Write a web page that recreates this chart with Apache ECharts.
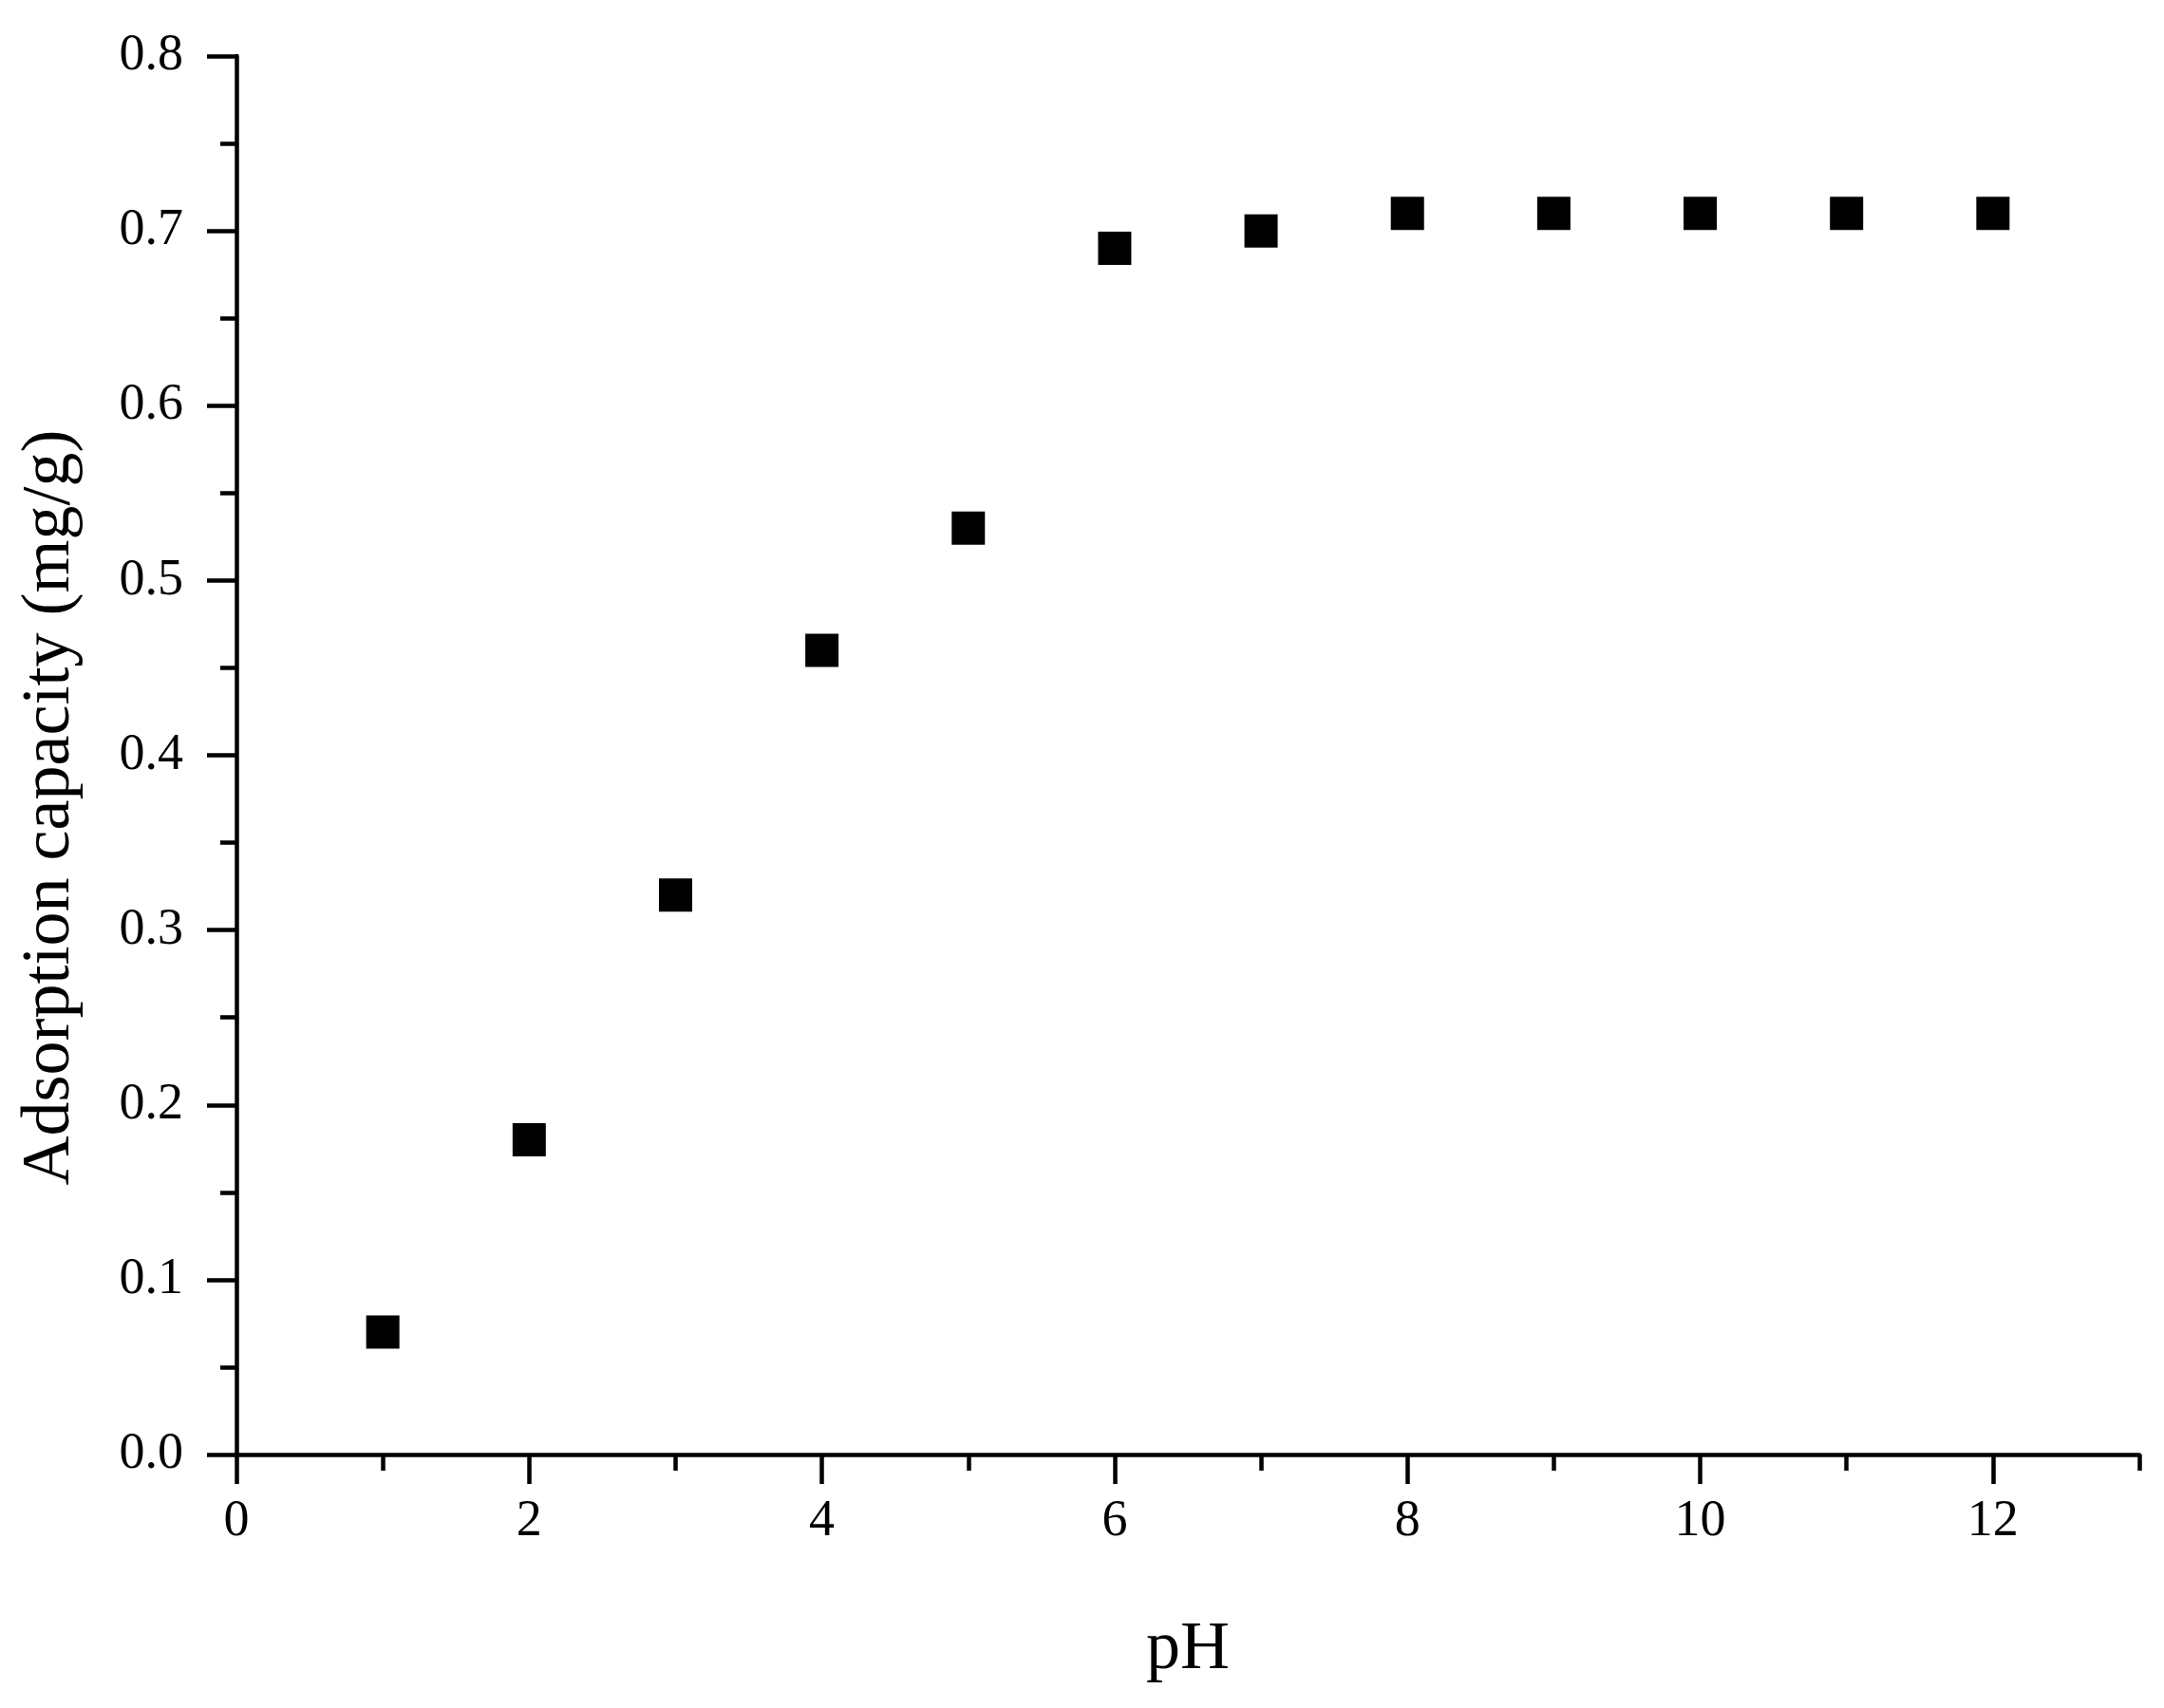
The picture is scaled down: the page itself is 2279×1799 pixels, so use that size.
<!DOCTYPE html>
<html>
<head>
<meta charset="utf-8">
<script src="https://cdn.jsdelivr.net/npm/echarts@6/dist/echarts.min.js"></script>
<style>
  html, body { margin: 0; padding: 0; background: #fff; }
  #chart { width: 2279px; height: 1799px; }
</style>
</head>
<body>
<div id="chart"></div>
<script>
// pH vs adsorption capacity
const phValues = [1, 2, 3, 4, 5, 6, 7, 8, 9, 10, 11, 12];
const capacity = [0.07, 0.18, 0.32, 0.46, 0.53, 0.69, 0.70, 0.71, 0.71, 0.71, 0.71, 0.71];
const xTickLabels = ["0", "1", "2", "3", "4", "5", "6", "7", "8", "9", "10", "11", "12", "13"];

const FONT = "'Liberation Serif', 'DejaVu Serif', serif";
const INK = "#000";

const chart = echarts.init(document.getElementById("chart"));

chart.setOption({
  backgroundColor: "#fff",
  animation: false,
  grid: { left: 249, right: 26, top: 59, bottom: 267, containLabel: false },
  xAxis: [
    {
      // value axis used by the data, carries the short ticks
      type: "value",
      min: 0,
      max: 13,
      interval: 1,
      name: "pH",
      nameLocation: "middle",
      nameGap: 170,
      nameTextStyle: { fontFamily: FONT, fontSize: 72, color: INK },
      axisLine: { show: true, onZero: false, lineStyle: { color: INK, width: 4.5 } },
      axisTick: { show: true, inside: false, length: 17, lineStyle: { color: INK, width: 4.5 } },
      axisLabel: { show: false },
      splitLine: { show: false },
    },
    {
      // overlay for the long ticks and labels at even pH
      type: "category",
      data: xTickLabels,
      boundaryGap: false,
      position: "bottom",
      axisLine: { show: false },
      axisTick: {
        show: true,
        length: 31,
        interval: (i) => i % 2 === 0 && i < 13,
        lineStyle: { color: INK, width: 4.5 },
      },
      axisLabel: {
        show: true,
        interval: (i) => i % 2 === 0 && i < 13,
        margin: 44,
        fontFamily: FONT,
        fontSize: 54,
        color: INK,
      },
      splitLine: { show: false },
    },
  ],
  yAxis: {
    type: "value",
    min: 0,
    max: 0.8,
    interval: 0.1,
    name: "Adsorption capacity (mg/g)",
    nameLocation: "middle",
    nameGap: 160,
    nameTextStyle: { fontFamily: FONT, fontSize: 72, color: INK, padding: [0, 110, 0, 0] },
    axisLine: { show: true, onZero: false, lineStyle: { color: INK, width: 4.5 } },
    axisTick: { show: true, inside: false, length: 31, lineStyle: { color: INK, width: 4.5 } },
    minorTick: { show: true, splitNumber: 2, length: 17, lineStyle: { color: INK, width: 4.5 } },
    axisLabel: {
      margin: 56,
      fontFamily: FONT,
      fontSize: 54,
      color: INK,
      formatter: (v) => v.toFixed(1),
    },
    splitLine: { show: false },
  },
  series: [
    {
      type: "scatter",
      xAxisIndex: 0,
      data: phValues.map((x, i) => [x, capacity[i]]),
      symbol: "rect",
      symbolSize: 35,
      itemStyle: { color: INK, opacity: 1 },
    },
  ],
});
</script>
</body>
</html>
